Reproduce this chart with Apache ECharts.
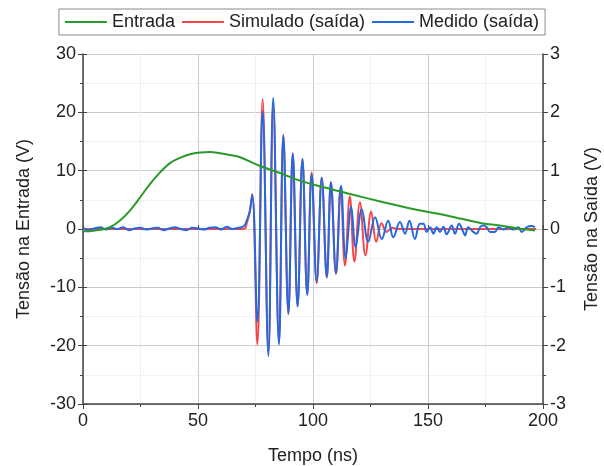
<!DOCTYPE html>
<html>
<head>
<meta charset="utf-8">
<script src="https://cdn.jsdelivr.net/npm/echarts@6/dist/echarts.min.js"></script>
<style>
  html, body { margin: 0; padding: 0; background: #fff; }
  #chart { width: 604px; height: 466px; }
</style>
</head>
<body>
<div id="chart"></div>
<script>
// Input pulse (left axis, V)
const inTime = [0, 3, 7.4, 11.7, 16.1, 20.4, 24.8, 29.1, 33.5, 37.8, 42.2, 46.5, 50.9, 55.2, 59.6, 63.9, 68.3, 77, 85.7, 94.3, 105.2, 116.1, 130.6, 145, 154.5, 164.6, 173.3, 181.3, 190, 196.5];
const inVolt = [-0.4, -0.37, -0.15, 0.3, 1.45, 3.15, 5.4, 7.7, 9.7, 11.3, 12.2, 12.8, 13.1, 13.2, 13.0, 12.7, 12.3, 10.8, 9.6, 8.3, 7.1, 6.0, 4.6, 3.3, 2.6, 1.75, 1.0, 0.6, 0.05, -0.25];

// Simulated output (right axis, V)
const simTime = [0, 70, 71.2, 72.5, 73.6, 75.8, 78.1, 80.6, 82.7, 85.2, 87.1, 89.3, 91.2, 93.3, 95.4, 97.5, 99.4, 101.6, 103.8, 106.0, 107.8, 110.0, 112.0, 113.9, 116.0, 118.0, 120.4, 122.8, 125.3, 127.5, 129.8, 132, 134.5, 137, 197];
const simVolt = [0, 0, 0.1, 0.3, 0.6, -1.98, 2.23, -2.1, 2.15, -1.95, 1.62, -1.46, 1.3, -1.32, 1.2, -1.12, 0.97, -0.93, 0.88, -0.83, 0.8, -0.77, 0.72, -0.63, 0.56, -0.56, 0.46, -0.45, 0.3, -0.22, 0.1, -0.05, 0.02, 0, 0];

// Measured output (right axis, V)
const measTime = [0, 2.5, 5, 7.5, 10, 12.5, 15, 17.5, 20, 22.5, 25, 27.5, 30, 32.5, 35, 37.5, 40, 42.5, 45, 47.5, 50, 52.5, 55, 57.5, 60, 62.5, 65, 67.5, 70,
  71.2, 72.5, 73.6, 75.8, 78.1, 80.6, 82.7, 85.2, 87.1, 89.3, 91.2, 93.3, 95.4, 97.5, 99.4, 101.6, 103.8, 106.0, 107.8, 110.0, 112.2, 114.2, 116.6, 118.5, 121.2, 124.0, 127.0, 129.9, 132.7, 134.9, 137.8, 140.0, 141.9, 144.3,
  146.5, 148, 149.4, 150.9, 152.3, 153.8, 155.2, 156.7, 158.1, 160.3, 161.7, 163.5, 165.3, 166.1, 167.5, 169.7, 171.2, 172.6, 174, 175.5, 177, 179.1, 180.6, 182.7, 184.9, 187.1, 189.3, 190.7, 192.9, 195.1, 196.5];
const measVolt = [0.02, -0.02, 0.01, 0.03, -0.01, 0.02, 0, 0.03, -0.02, 0.01, 0.02, -0.01, 0.01, 0.02, -0.02, 0.01, 0.03, 0, -0.02, 0.02, 0.01, -0.01, 0.02, 0.03, -0.01, 0.04, 0, 0.02, 0.05,
  0.15, 0.3, 0.58, -1.59, 2.02, -2.18, 2.25, -1.98, 1.6, -1.44, 1.29, -1.33, 1.2, -1.13, 0.94, -0.9, 0.88, -0.82, 0.8, -0.76, 0.74, -0.5, 0.38, -0.31, 0.34, -0.22, 0.2, -0.17, 0.14, -0.14, 0.12, -0.08, 0.14, -0.17,
  0.09, 0.09, -0.05, 0.03, -0.08, 0.03, -0.05, 0.04, -0.09, 0.06, -0.08, 0.09, -0.05, -0.11, 0.03, -0.05, -0.08, 0.03, 0.06, 0.03, -0.05, -0.05, 0.03, -0.01, 0.03, -0.01, 0.03, -0.05, 0.03, 0.05, 0.03];

const xTicks = { min: 0, max: 200, interval: 50 };
const leftTicks = { min: -30, max: 30, interval: 10 };
const rightTicks = { min: -3, max: 3, interval: 1 };

const zip = (t, v) => t.map((x, i) => [x, v[i]]);

const FONT = 'Liberation Sans, Arial, sans-serif';
const TXT = '#222';
const AX = '#444';
const GRID_MAJOR = { show: true, lineStyle: { color: '#cccccc', width: 1 } };
const GRID_MINOR = { show: true, lineStyle: { color: '#e6e6e6', type: 'dotted', width: 1 } };

const chart = echarts.init(document.getElementById('chart'), null, { renderer: 'canvas' });

const outerAxis = {
  type: 'value',
  nameLocation: 'middle',
  nameTextStyle: { fontFamily: FONT, fontSize: 18, color: TXT },
  axisLine: { show: true, onZero: false, lineStyle: { color: AX, width: 1.5 } },
  axisTick: { show: true, length: 5, lineStyle: { color: AX } },
  minorTick: { show: true, splitNumber: 2, length: 3, lineStyle: { color: AX } },
  axisLabel: { fontFamily: FONT, fontSize: 18, color: TXT, margin: 7 }
};

// Companion axes that add the inward half of each major tick
const innerAxis = {
  type: 'value',
  axisLine: { show: false },
  axisTick: { show: true, inside: true, length: 4, lineStyle: { color: AX } },
  axisLabel: { show: false },
  splitLine: { show: false }
};

const legendNames = ['Entrada', 'Simulado (saída)', 'Medido (saída)'];

chart.setOption({
  animation: false,
  backgroundColor: '#fff',
  textStyle: { fontFamily: FONT },
  legend: {
    top: 9,
    left: 'center',
    icon: 'rect',
    itemWidth: 42,
    itemHeight: 2,
    itemGap: 7,
    padding: [4, 6],
    borderColor: '#8a8a8a',
    borderWidth: 1,
    textStyle: { fontFamily: FONT, fontSize: 18, color: TXT },
    data: legendNames
  },
  grid: { left: 83, right: 61, top: 54, bottom: 62, outerBoundsMode: 'none', containLabel: false },
  xAxis: [
    Object.assign({}, outerAxis, {
      position: 'bottom',
      min: xTicks.min, max: xTicks.max, interval: xTicks.interval,
      name: 'Tempo (ns)',
      nameGap: 43,
      axisLabel: { fontFamily: FONT, fontSize: 18, color: TXT, margin: 8 },
      splitLine: GRID_MAJOR,
      minorSplitLine: GRID_MINOR
    }),
    Object.assign({}, innerAxis, {
      position: 'bottom',
      min: xTicks.min, max: xTicks.max, interval: xTicks.interval
    })
  ],
  yAxis: [
    Object.assign({}, outerAxis, {
      position: 'left',
      min: leftTicks.min, max: leftTicks.max, interval: leftTicks.interval,
      name: 'Tensão na Entrada (V)',
      nameGap: 50,
      splitLine: GRID_MAJOR,
      minorSplitLine: GRID_MINOR
    }),
    Object.assign({}, outerAxis, {
      position: 'right',
      min: rightTicks.min, max: rightTicks.max, interval: rightTicks.interval,
      name: 'Tensão na Saída (V)',
      nameGap: 40,
      splitLine: { show: false }
    }),
    Object.assign({}, innerAxis, {
      position: 'left',
      min: leftTicks.min, max: leftTicks.max, interval: leftTicks.interval
    }),
    Object.assign({}, innerAxis, {
      position: 'right',
      min: rightTicks.min, max: rightTicks.max, interval: rightTicks.interval
    })
  ],
  series: [
    {
      name: legendNames[0], type: 'line', xAxisIndex: 0, yAxisIndex: 0, z: 4,
      data: zip(inTime, inVolt), smooth: 0.4, symbol: 'none',
      lineStyle: { color: '#2a9a2a', width: 2 }, itemStyle: { color: '#2a9a2a' }
    },
    {
      name: legendNames[1], type: 'line', xAxisIndex: 0, yAxisIndex: 1, z: 2,
      data: zip(simTime, simVolt), smooth: 0.4, symbol: 'none',
      lineStyle: { color: '#f4474a', width: 2 }, itemStyle: { color: '#f4474a' }
    },
    {
      name: legendNames[2], type: 'line', xAxisIndex: 0, yAxisIndex: 1, z: 3,
      data: zip(measTime, measVolt), smooth: 0.4, symbol: 'none',
      lineStyle: { color: '#2369e0', width: 2 }, itemStyle: { color: '#2369e0' }
    }
  ]
});
</script>
</body>
</html>
